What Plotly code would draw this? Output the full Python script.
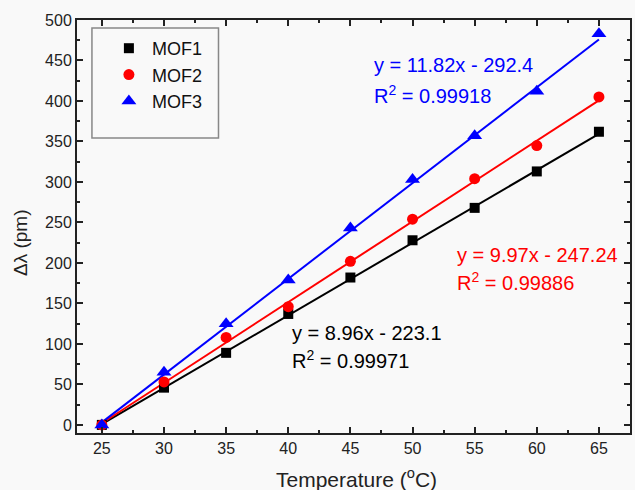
import plotly.graph_objects as go
import numpy as np

temps = [25, 30, 35, 40, 45, 50, 55, 60, 65]
mof1 = [0, 46, 89, 137, 182, 228, 268, 313, 362]
mof2 = [0, 53, 108, 146, 202, 254, 304, 345, 405]
mof3 = [0, 65, 125, 179, 243, 303, 357, 412, 483]

series_names = ["MOF1", "MOF2", "MOF3"]
series_values = [mof1, mof2, mof3]
colors = ["#000000", "#ff0000", "#0000ff"]
symbols = ["square", "circle", "triangle-up"]
marker_sizes = [10, 11, 13]
slopes = [8.96, 9.97, 11.82]
intercepts = [-223.1, -247.24, -292.4]
eq_lines = ["y = 8.96x - 223.1", "y = 9.97x - 247.24", "y = 11.82x - 292.4"]
r2_lines = ["R<sup>2</sup> = 0.99971", "R<sup>2</sup> = 0.99886", "R<sup>2</sup> = 0.99918"]
# left x (data) and line-1 / line-2 centre y (data)
eq_x = [40.1, 53.4, 46.7]
eq_y1 = [114, 210, 444]
eq_y2 = [81, 177, 408]

FONT = "Liberation Sans, Arial, sans-serif"

fig = go.Figure()
for name, vals, c, s, m, b in zip(series_names, series_values, colors, symbols, slopes, intercepts):
    xs = np.array([temps[0], temps[-1]])
    fig.add_trace(go.Scatter(x=xs, y=m * xs + b, mode="lines",
                             line=dict(color=c, width=2), showlegend=False, hoverinfo="skip"))
for name, vals, c, s, ms in zip(series_names, series_values, colors, symbols, marker_sizes):
    fig.add_trace(go.Scatter(x=temps, y=vals, mode="markers", name=name,
                             marker=dict(color=c, symbol=s, size=ms, line=dict(width=0))))

for l1, l2, px, py1, py2, c in zip(eq_lines, r2_lines, eq_x, eq_y1, eq_y2, colors):
    for txt, py in ((l1, py1), (l2, py2)):
        fig.add_annotation(x=px, y=py, xref="x", yref="y", text=txt, showarrow=False,
                           xanchor="left", yanchor="middle", align="left",
                           font=dict(family=FONT, size=20, color=c))

# axis titles
fig.add_annotation(x=0.5, y=0, xref="paper", yref="paper", yshift=-45, xshift=3,
                   text="Temperature (<sup>o</sup>C)", showarrow=False,
                   xanchor="center", yanchor="middle",
                   font=dict(family=FONT, size=21, color="#222222"))
fig.add_annotation(x=0, y=(433 - 243) / 413, xref="paper", yref="paper", xshift=-57,
                   text="Δλ (pm)", showarrow=False, textangle=-90,
                   xanchor="center", yanchor="middle",
                   font=dict(family=FONT, size=19, color="#222222"))

axis_common = dict(showline=True, linecolor="#222222", linewidth=2, mirror="ticks",
                   ticks="inside", ticklen=6, tickwidth=1.5, tickcolor="#222222",
                   showgrid=False, zeroline=False,
                   tickfont=dict(family=FONT, size=16, color="#222222"))

fig.update_xaxes(range=[23, 67.5], tickvals=temps, ticktext=[str(t) for t in temps],
                 minor=dict(ticks="inside", tickvals=[27.5, 32.5, 37.5, 42.5, 47.5, 52.5, 57.5, 62.5, 67.5],
                            ticklen=3, tickwidth=1.5, tickcolor="#222222"),
                 **axis_common)
fig.update_yaxes(range=[-10, 500], dtick=50,
                 minor=dict(ticks="inside", dtick=25, ticklen=3, tickwidth=1.5, tickcolor="#222222"),
                 **axis_common)

fig.add_shape(type="rect", xref="paper", yref="paper",
              x0=(92 - 77) / 555, x1=(219 - 77) / 555,
              y0=(433 - 138) / 413, y1=(433 - 28) / 413,
              line=dict(color="#888888", width=1.5), fillcolor="rgba(0,0,0,0)")

fig.update_layout(width=635, height=490,
                  margin=dict(l=77, r=3, t=20, b=57),
                  paper_bgcolor="#f9f9f9", plot_bgcolor="#f9f9f9",
                  legend=dict(x=(106 - 77) / 555, y=(433 - 30) / 413, xanchor="left", yanchor="top",
                              bgcolor="rgba(0,0,0,0)", borderwidth=0,
                              font=dict(family=FONT, size=18, color="#111111"),
                              tracegroupgap=0, itemwidth=36),
                  showlegend=True)

fig.write_html("out.html", config={"displayModeBar": False},
               post_script="document.body.style.margin='0';")
